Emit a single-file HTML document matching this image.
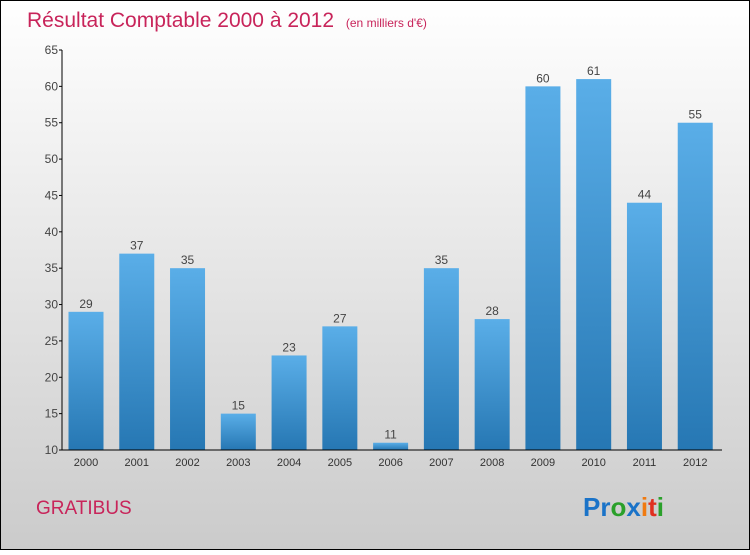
<!DOCTYPE html>
<html><head><meta charset="utf-8"><style>
html,body{margin:0;padding:0;}
body{width:750px;height:550px;overflow:hidden;font-family:"Liberation Sans",sans-serif;}
</style></head><body>
<svg width="750" height="550" xmlns="http://www.w3.org/2000/svg">
<defs>
<linearGradient id="bg" x1="0" y1="0" x2="0" y2="1"><stop offset="0" stop-color="#ffffff"/><stop offset="1" stop-color="#cbcbcb"/></linearGradient>
<linearGradient id="bar" x1="0" y1="0" x2="0" y2="1"><stop offset="0" stop-color="#5aaee8"/><stop offset="1" stop-color="#2677b3"/></linearGradient>
</defs>
<rect x="0.5" y="0.5" width="749" height="549" fill="url(#bg)" stroke="#000"/>
<text x="27" y="27" font-size="21" fill="#c8245a">Résultat Comptable 2000 à 2012 <tspan font-size="12" dx="6">(en milliers d'€)</tspan></text>
<g id="plot"></g>
<text x="36" y="514" font-size="19" fill="#c8245a">GRATIBUS</text>
<text x="583" y="516" font-size="26" font-weight="bold"><tspan fill="#1a73c8">Pr</tspan><tspan fill="#2aa02a">o</tspan><tspan fill="#1a73c8">x</tspan><tspan fill="#f07a10">i</tspan><tspan fill="#e03020">t</tspan><tspan fill="#2aa02a">i</tspan></text>
</svg>
<script>
const categories=["2000","2001","2002","2003","2004","2005","2006","2007","2008","2009","2010","2011","2012"];
const values=[29,37,35,15,23,27,11,35,28,60,61,44,55];
const yTicks=[10,15,20,25,30,35,40,45,50,55,60,65];
const NS="http://www.w3.org/2000/svg";
const g=document.getElementById("plot");
const x0=62,x1=722,yMin=10,yMax=65,yTop=50,yBot=450;
const band=(x1-x0)/categories.length;
function y(v){return yBot-(v-yMin)/(yMax-yMin)*(yBot-yTop);}
function xs(i){return x0+i*band;}
function mk(t,a){const e=document.createElementNS(NS,t);for(const k in a)e.setAttribute(k,a[k]);g.appendChild(e);return e;}
values.forEach((v,i)=>{
 const r=mk("rect",{x:xs(i)+6.5,y:y(v),width:35,height:yBot-y(v),fill:"url(#bar)"});
 
 
 const t=mk("text",{x:xs(i)+24,y:y(v)-4,"font-size":12,"text-anchor":"middle",fill:"#444"});
 t.textContent=v;
 
 
 const c=mk("text",{x:xs(i)+24,y:466,"font-size":11,"text-anchor":"middle",fill:"#333"});
 c.textContent=categories[i];
 
 
});
yTicks.forEach(v=>{
 const l=mk("line",{x1:x0-3,x2:x0,y1:y(v),y2:y(v),stroke:"#000"});
 
 
 const t=mk("text",{x:x0-4,y:y(v)+4,"font-size":12,"text-anchor":"end",fill:"#444"});
 t.textContent=v;
 
 
});
const ya=mk("line",{x1:x0,x2:x0,y1:yTop,y2:yBot,stroke:"#000"});


const xa=mk("line",{x1:x0,x2:x1,y1:yBot,y2:yBot,stroke:"#000"});


</script>
</body></html>
